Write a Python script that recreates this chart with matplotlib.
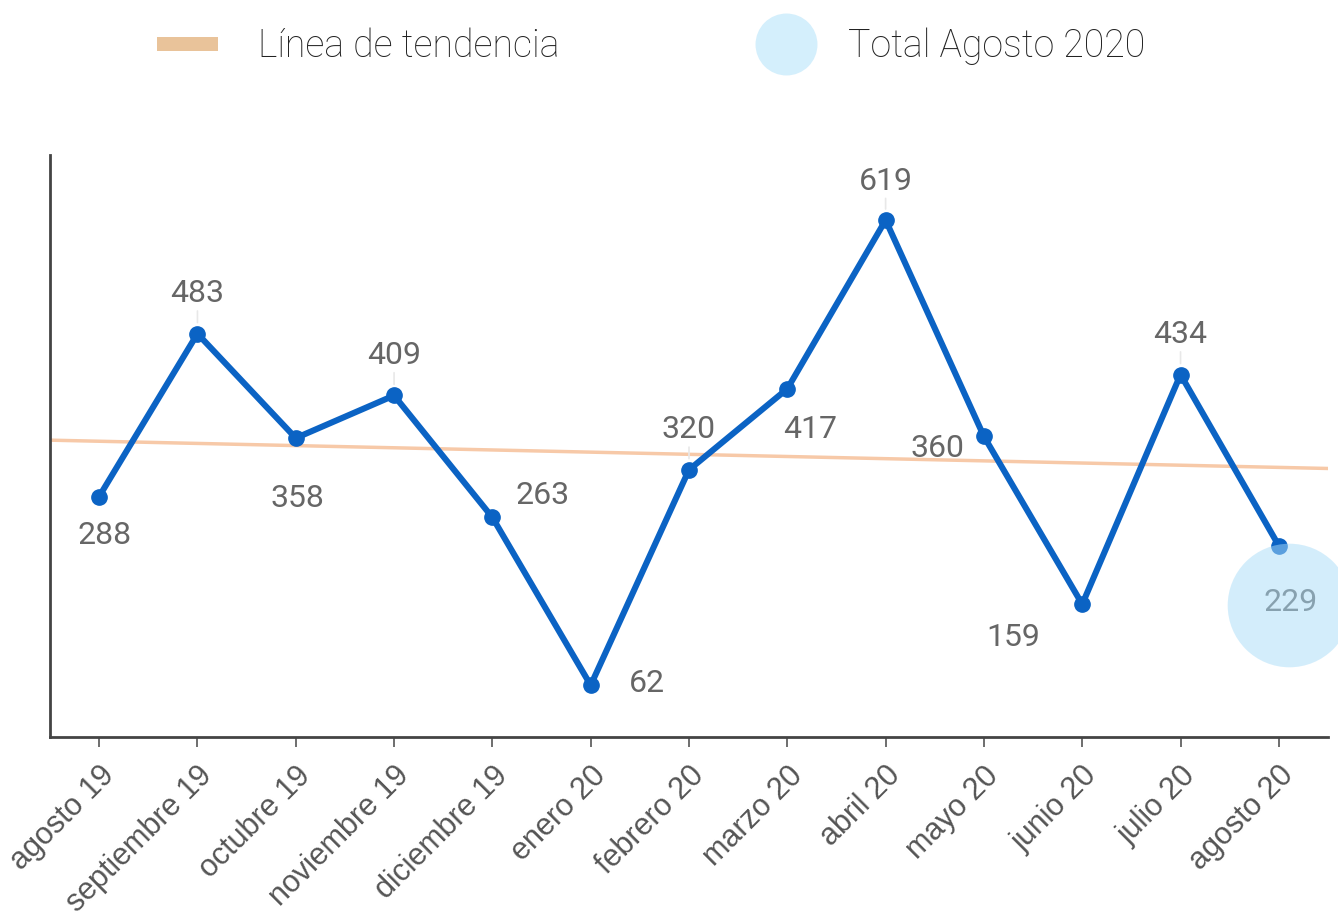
import numpy as np
import matplotlib
matplotlib.use('Agg')
import matplotlib.pyplot as plt
from matplotlib.lines import Line2D
from matplotlib.patches import Rectangle

months = ['agosto 19', 'septiembre 19', 'octubre 19', 'noviembre 19',
          'diciembre 19', 'enero 20', 'febrero 20', 'marzo 20', 'abril 20',
          'mayo 20', 'junio 20', 'julio 20', 'agosto 20']
totals = [288, 483, 358, 409, 263, 62, 320, 417, 619, 360, 159, 434, 229]

# label offsets in pixels (dx, dy)
label_offsets = [(5, -39), (0, 40), (2, -60), (0, 40), (50, 22), (56, 2),
                 (0, 40), (23, -41), (0, 39), (-46, -12), (-69, -33),
                 (0, 40), (12, -57)]

line_blue = '#0b63c4'
trend_col = '#f7c9a8'
legend_orange = '#e9c39a'
bubble_col = '#a9dcf8'

fig = plt.figure(figsize=(13.38, 9.16), dpi=100)
ax = fig.add_axes([50/1338, 1-737/916, 1278/1338, 582/916])

x = np.arange(len(totals))
y = np.array(totals, float)

# linear trend
slope, icpt = np.polyfit(x, y, 1)
xt = np.array([-0.5, 12.5])
ax.plot(xt, slope*xt + icpt, color=trend_col, lw=2.5, zorder=1)

ax.plot(x, y, color=line_blue, lw=4.4, marker='o', markersize=11,
        solid_joinstyle='round', zorder=3)

for xi, yi, (dx, dy) in zip(x, y, label_offsets):
    arrow = None
    if dx == 0 and dy > 0:
        arrow = dict(arrowstyle='-', color='#e8e8e8', lw=1.2,
                     shrinkA=0, shrinkB=8)
    ax.annotate(str(int(yi)), (xi, yi), xytext=(dx, dy),
                textcoords='offset pixels', ha='center', va='center',
                fontsize=23, color='#666666', family=['Roboto', 'DejaVu Sans'],
                arrowprops=arrow, zorder=4)

# highlight bubble for the last month
ax.plot([x[-1] + 0.1], [158], marker='o', markersize=89, color=bubble_col,
        alpha=0.5, markeredgewidth=0, clip_on=False, zorder=5)

ax.set_xlim(-0.5, 12.5)
ax.set_ylim(0, 697)
ax.set_xticks(x)
ax.set_xticklabels(months, rotation=45, ha='right', va='top',
                   rotation_mode='anchor', fontsize=22, color='#555555',
                   family=['Liberation Sans', 'DejaVu Sans'])
ax.tick_params(axis='x', length=7, width=1.2, color='#555555', pad=10)
ax.set_yticks([])
for s in ['top', 'right']:
    ax.spines[s].set_visible(False)
for s in ['left', 'bottom']:
    ax.spines[s].set_color('#444444')
    ax.spines[s].set_linewidth(2)

# legend drawn at the top
fig.add_artist(Rectangle((157/1338, 1-51/916), 61/1338, 14/916,
                         transform=fig.transFigure, color=legend_orange, lw=0))
fig.text(258/1338, 1-46/916, 'Línea de tendencia', fontsize=27,
         family=['Roboto', 'DejaVu Sans'], fontweight='light', color='#222222',
         va='center', ha='left')
fig.add_artist(Line2D([786/1338], [1-44/916], marker='o', markersize=44.6,
                      color='#d4effc', markeredgewidth=0,
                      transform=fig.transFigure))
fig.text(848/1338, 1-46/916, 'Total Agosto 2020', fontsize=27,
         family=['Roboto', 'DejaVu Sans'], fontweight='light', color='#222222',
         va='center', ha='left')

fig.savefig('out.png', dpi=100)
